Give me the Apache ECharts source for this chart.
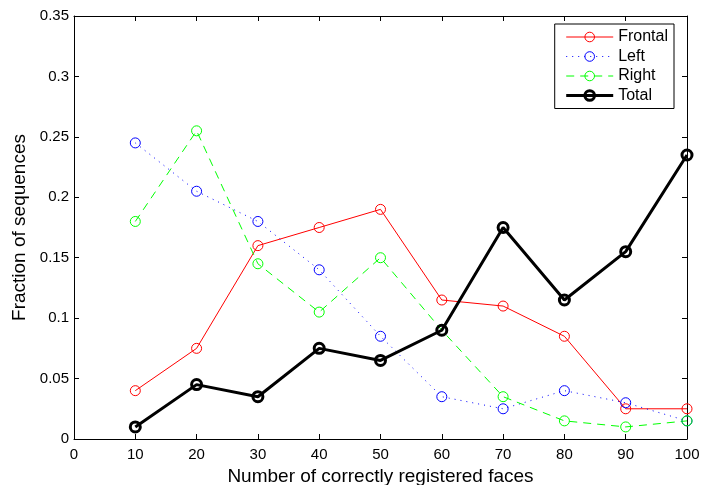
<!DOCTYPE html>
<html><head><meta charset="utf-8">
<script src="https://cdn.jsdelivr.net/npm/echarts@6/dist/echarts.min.js"></script>
<style>html,body{margin:0;padding:0;background:#fff}#c{width:701px;height:485px}</style>
</head><body><div id="c"></div>
<script>
var xValues = [10,20,30,40,50,60,70,80,90,100];
var frontal = [0.04,0.075,0.16,0.175,0.19,0.115,0.11,0.085,0.025,0.025];
var left    = [0.245,0.205,0.18,0.14,0.085,0.035,0.025,0.04,0.03,0.015];
var right   = [0.18,0.255,0.145,0.105,0.15,0.09,0.035,0.015,0.01,0.015];
var total   = [0.01,0.045,0.035,0.075,0.065,0.09,0.175,0.115,0.155,0.235];
var seriesNames = ['Frontal','Left','Right','Total'];
var xTitle = 'Number of correctly registered faces';
var yTitle = 'Fraction of sequences';

function pairs(v){ return xValues.map(function(x,i){ return [x, v[i]]; }); }
var font = 'Liberation Sans, Arial, sans-serif';
var chart = echarts.init(document.getElementById('c'), null, {renderer:'canvas'});
var colors = ['#ff0000','#0000ff','#00ff00','#000000'];
var dashes = ['solid',[1,5],[8,6],'solid'];
var widths = [1,1,1,3];
var borders = [1,1,1,3];
var sizes = [10,10,10,10];
var datasets = [frontal,left,right,total];
function mkSeries(i){
  return {
    name: seriesNames[i], type: 'line', data: pairs(datasets[i]), xAxisIndex:0, yAxisIndex:0,
    symbol: 'circle', symbolSize: sizes[i], showSymbol: true,
    lineStyle: {color: colors[i], width: widths[i], type: dashes[i]},
    itemStyle: {color: 'rgba(255,255,255,0)', borderColor: colors[i], borderWidth: borders[i]},
    emphasis: {disabled: true}, animation: false
  };
}
var axisCommon = {
  axisLine: {show: true, onZero:false, lineStyle: {color: '#000', width: 1}},
  axisTick: {show: true, inside: true, length: 5, lineStyle: {color: '#000'}},
  splitLine: {show: false},
  axisLabel: {color: '#000', fontSize: 15, fontFamily: font}
};
chart.setOption({
  animation: false,
  backgroundColor: '#fff',
  grid: {left: 74, right: 14, top: 16, bottom: 46, containLabel: false, outerBoundsMode: 'none', show: false},
  xAxis: [
    Object.assign({}, axisCommon, {type:'value', min:0, max:100, interval:10, position:'bottom',
      name: xTitle, nameLocation:'middle', nameGap: 25,
      nameTextStyle:{color:'#000', fontSize:19, fontFamily:font},
      axisLabel: Object.assign({}, axisCommon.axisLabel, {margin: 8})}),
    Object.assign({}, axisCommon, {type:'value', min:0, max:100, interval:10, position:'top',
      axisLabel:{show:false}})
  ],
  yAxis: [
    Object.assign({}, axisCommon, {type:'value', min:0, max:0.35, interval:0.05, position:'left',
      name: yTitle, nameLocation:'middle', nameGap: 44,
      nameTextStyle:{color:'#000', fontSize:19, fontFamily:font},
      axisLabel: Object.assign({}, axisCommon.axisLabel, {margin: 5, formatter: function(v){ return v===0?'0':String(+v.toFixed(2)); }})}),
    Object.assign({}, axisCommon, {type:'value', min:0, max:0.35, interval:0.05, position:'right',
      axisLabel:{show:false}})
  ],
  legend: {
    orient:'vertical', right: 27, top: 24, itemWidth: 47, itemHeight: 12, itemGap: 3.5,
    padding: [5,6,5,10],
    borderColor:'#000', borderWidth:1, backgroundColor:'#fff', borderRadius: 0,
    textStyle:{color:'#000', fontSize:16, lineHeight:16, fontFamily:font},
    data: seriesNames.map(function(n,i){
      return {name:n,
        lineStyle:{color:colors[i], width:widths[i], type:dashes[i]},
        itemStyle:{color:'rgba(255,255,255,0)', borderColor:colors[i], borderWidth:borders[i]}};
    })
  },
  series: [mkSeries(0), mkSeries(1), mkSeries(2), mkSeries(3)]
});
</script></body></html>
